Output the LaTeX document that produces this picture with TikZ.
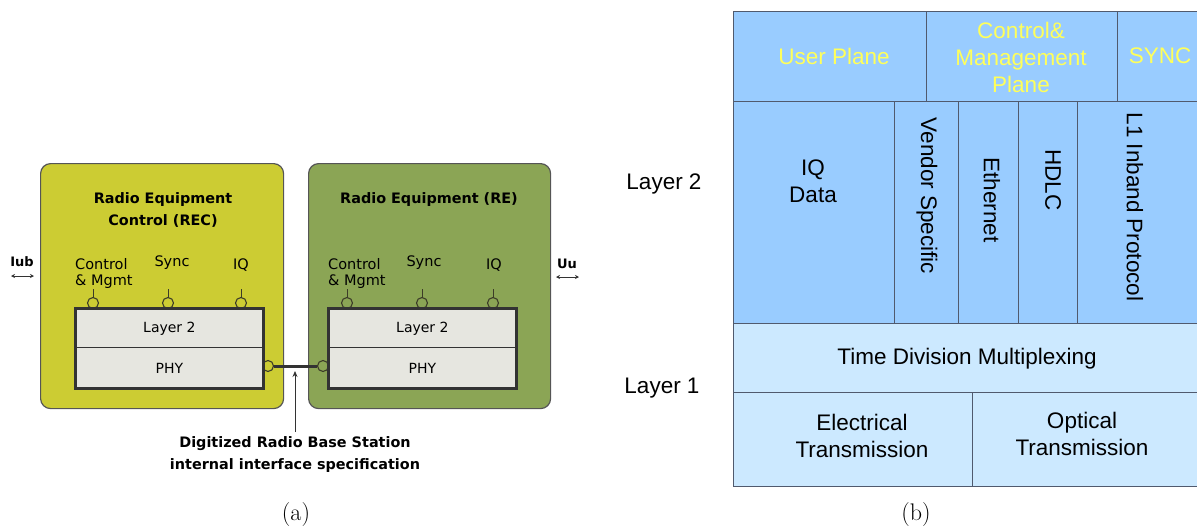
\documentclass[tikz,border=0pt]{standalone}
\usepackage{fontspec}
\newfontfamily\arialf{Liberation Sans}
\newfontfamily\dvs{DejaVu Sans}
\usetikzlibrary{arrows.meta}
\definecolor{recfill}{RGB}{204,204,51}
\definecolor{refill}{RGB}{139,165,85}
\definecolor{boxedge}{RGB}{85,85,85}
\definecolor{innerfill}{RGB}{230,230,224}
\definecolor{darkline}{RGB}{51,51,51}
\definecolor{bluetop}{RGB}{153,204,255}
\definecolor{bluelow}{RGB}{204,233,255}
\definecolor{yel}{RGB}{255,255,90}
\definecolor{gridline}{RGB}{80,90,110}
\definecolor{portline}{RGB}{60,60,40}
\tikzset{
  outerbox/.style={draw=boxedge, line width=1.2pt, rounded corners=10pt, anchor=north west, inner sep=0pt},
  innercell/.style={draw=darkline, line width=0.8pt, fill=innerfill, anchor=north west, inner sep=0pt, minimum width=188pt,
    font=\dvs\fontsize{14}{17}\selectfont},
  stackedge/.style={draw=darkline, line width=3pt},
  port/.style={circle, draw=portline, line width=1.1pt, minimum size=11pt, inner sep=0pt},
  stick/.style={draw=portline, line width=1pt},
  lbl/.style={font=\dvs\fontsize{14.5}{17}\selectfont, inner sep=0pt},
  ttl/.style={font=\dvs\bfseries\fontsize{14.4}{22}\selectfont, inner sep=0pt, align=center},
  cellA/.style={draw=gridline, line width=0.7pt, fill=bluetop, anchor=north west, inner sep=0pt},
  cellB/.style={draw=gridline, line width=0.7pt, fill=bluelow, anchor=north west, inner sep=0pt},
  ytxt/.style={text=yel, font=\arialf\fontsize{22.5}{27}\selectfont, inner sep=0pt, align=center},
  btxt/.style={text=black, font=\arialf\fontsize{22.5}{27}\selectfont, inner sep=0pt, align=center},
  subcap/.style={font=\fontsize{24}{28}\selectfont, inner sep=0pt},
  iface/.style={<->, >={Stealth[length=4pt,width=4pt]}, line width=0.8pt, draw=darkline}
}
\begin{document}
\begin{tikzpicture}[x=1pt,y=-1pt]
\useasboundingbox (0,0) rectangle (1197,531);

% ---------------- (a) ----------------
\node[outerbox, fill=recfill, minimum width=243pt, minimum height=245pt] (rec) at (40,163) {};
\node[outerbox, fill=refill, minimum width=242pt, minimum height=245pt] (re) at (308,163) {};

\node[ttl] (rectitle) at (163,210) {Radio Equipment\\Control (REC)};
\node[ttl] (retitle) at (429,200) {Radio Equipment (RE)};

% port labels REC
\node[lbl, anchor=west, align=left] (recctl) at (75,273) {Control\\[-1pt]\& Mgmt};
\node[lbl] (recsync) at (172,263) {Sync};
\node[lbl] (reciq) at (241,265) {IQ};
% port labels RE
\node[lbl, anchor=west, align=left] (rectl) at (328,273) {Control\\[-1pt]\& Mgmt};
\node[lbl] (resync) at (424,263) {Sync};
\node[lbl] (reiq) at (494,265) {IQ};

% ports
\foreach \n/\x/\c in {recp1/93/recfill, recp2/168/recfill, recp3/241/recfill, rep1/347/refill, rep2/422/refill, rep3/493/refill}{
  \coordinate (\n top) at (\x,289);
  \node[port, fill=\c] (\n) at (\x,303) {};
  \draw[stick] (\n top) -- (\n.north);
}

% PHY ports
\node[port, fill=recfill] (recphyport) at (268,366) {};
\node[port, fill=refill] (rephyport) at (323,366) {};
\draw[line width=3pt, draw=darkline] (recphyport.east) -- (rephyport.west);

% inner stacks
\node[innercell, minimum height=39pt, text depth=0pt, text height=10pt] (recl2) at (75,308) {Layer 2};
\node[innercell, minimum height=41pt] (recphy) at (75,347) {PHY};
\draw[stackedge] (recl2.north west) rectangle (recphy.south east);
\node[innercell, minimum height=39pt, text depth=0pt, text height=10pt] (rel2) at (328,308) {Layer 2};
\node[innercell, minimum height=41pt] (rephy) at (328,347) {PHY};
\draw[stackedge] (rel2.north west) rectangle (rephy.south east);

% pointer
\coordinate (linkpt) at (295,371);
\coordinate (arrtail) at (295,432);
\draw[-{Stealth[length=6pt,width=5pt]}, line width=0.8pt, draw=darkline] (arrtail) -- (linkpt);
\node[ttl] (digi) at (295,455) {Digitized Radio Base Station\\internal interface specification};

% Iub / Uu
\node[font=\dvs\bfseries\fontsize{13}{15}\selectfont, inner sep=0pt] (iub) at (22,262) {Iub};
\coordinate (iubl) at (11,276); \coordinate (iubr) at (34,276);
\draw[iface] (iubl) -- (iubr);
\node[font=\dvs\bfseries\fontsize{13}{15}\selectfont, inner sep=0pt] (uu) at (567,264) {Uu};
\coordinate (uul) at (556,277); \coordinate (uur) at (579,277);
\draw[iface] (uul) -- (uur);

\node[subcap] (capa) at (296,515) {(a)};

% ---------------- (b) ----------------
\node[cellA, minimum width=193pt, minimum height=90pt] (up) at (733,11) {};
\node[cellA, minimum width=191pt, minimum height=90pt] (cm) at (926,11) {};
\node[cellA, minimum width=85pt, minimum height=90pt] (sync) at (1117,11) {};
\node[cellA, minimum width=161pt, minimum height=222pt] (iq) at (733,101) {};
\node[cellA, minimum width=64pt, minimum height=222pt] (vs) at (894,101) {};
\node[cellA, minimum width=60pt, minimum height=222pt] (eth) at (958,101) {};
\node[cellA, minimum width=59pt, minimum height=222pt] (hdlc) at (1018,101) {};
\node[cellA, minimum width=125pt, minimum height=222pt] (l1) at (1077,101) {};
\node[cellB, minimum width=469pt, minimum height=69pt] (tdm) at (733,323) {};
\node[cellB, minimum width=239pt, minimum height=94pt] (el) at (733,392) {};
\node[cellB, minimum width=230pt, minimum height=94pt] (op) at (972,392) {};

\node[ytxt] (uptxt) at (834,56) {User Plane};
\node[ytxt] (cmtxt) at (1021,57) {Control\&\\Management\\Plane};
\node[ytxt] (synctxt) at (1160,56) {SYNC};
\node[btxt] (iqtxt) at (813,181) {IQ\\Data};
\node[btxt, rotate=-90] (vstxt) at (927,196) {Vendor Specific};
\node[btxt, rotate=-90] (ethtxt) at (992,200) {Ethernet};
\node[btxt, rotate=-90] (hdlctxt) at (1053,180) {HDLC};
\node[btxt, rotate=-90] (l1txt) at (1135,207) {L1 Inband Protocol};
\node[btxt] (tdmtxt) at (967,359) {Time Division Multiplexing};
\node[btxt] (eltxt) at (862,436) {Electrical\\Transmission};
\node[btxt] (optxt) at (1082,434) {Optical\\Transmission};

\node[btxt] (lay2) at (664,184) {Layer 2};
\node[btxt] (lay1) at (662,388) {Layer 1};

\node[subcap] (capb) at (916,515) {(b)};
\end{tikzpicture}
\end{document}
